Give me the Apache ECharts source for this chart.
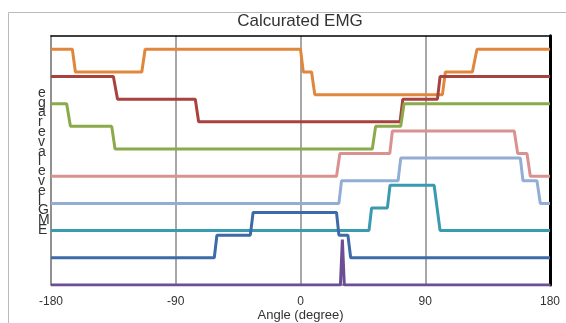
<!DOCTYPE html>
<html><head><meta charset="utf-8">
<script src="https://cdn.jsdelivr.net/npm/echarts@6/dist/echarts.min.js"></script>
<style>html,body{margin:0;padding:0;background:#fff}#c{width:566px;height:323px}</style>
</head><body><div id="c"></div>
<script>
const xTicks = [-180, -90, 0, 90, 180];
const seriesNames = ['orange', 'red', 'green', 'pink', 'lavender', 'teal', 'darkblue', 'purple'];
const offsets = [8.4, 7.2, 6.0, 4.8, 3.6, 2.4, 1.2, 0];
const colors = ['#E0873C', '#A8423F', '#8AAA4B', '#D99290', '#93AED5', '#3A9AB0', '#3D6BA8', '#6C4E94'];

const orangeAngles = [-180, -164.6, -162.4, -114.5, -112.1, 0, 2, 8, 10.3, 102.4, 104.5, 124, 127.3, 180];
const orangeLevels = [2, 2, 1, 1, 2, 2, 1, 1, 0, 0, 1, 1, 2, 2];
const redAngles = [-180, -135, -132, -75.9, -73.5, 71.8, 73.8, 98.8, 100.7, 180];
const redLevels = [2, 2, 1, 1, 0, 0, 1, 1, 2, 2];
const greenAngles = [-180, -168.7, -166, -136.2, -133.8, 51.8, 54.2, 72.3, 74.7, 180];
const greenLevels = [2, 2, 1, 1, 0, 0, 1, 1, 2, 2];
const pinkAngles = [-180, 26, 28.4, 64.4, 66.3, 154.2, 156.7, 163.4, 165.8, 180];
const pinkLevels = [0, 0, 1, 1, 2, 2, 1, 1, 0, 0];
const lavenderAngles = [-180, 27.7, 29.6, 70.4, 72.3, 158.6, 160.5, 170.6, 173, 180];
const lavenderLevels = [0, 0, 1, 1, 2, 2, 1, 1, 0, 0];
const tealAngles = [-180, 49.4, 51.3, 62.7, 64.6, 96.4, 100.7, 180];
const tealLevels = [0, 0, 1, 1, 2, 2, 0, 0];
const darkblueAngles = [-180, -62.2, -60.3, -36.2, -34.2, 26, 27.7, 34.2, 36.2, 180];
const darkblueLevels = [0, 0, 1, 1, 2, 2, 1, 1, 0, 0];
const purpleAngles = [-180, 28.8, 30.2, 31.6, 180];
const purpleLevels = [0, 0, 2, 0, 0];

const allAngles = [orangeAngles, redAngles, greenAngles, pinkAngles, lavenderAngles, tealAngles, darkblueAngles, purpleAngles];
const allLevels = [orangeLevels, redLevels, greenLevels, pinkLevels, lavenderLevels, tealLevels, darkblueLevels, purpleLevels];

const FONT = "'Liberation Sans', Arial, sans-serif";

const series = seriesNames.map((n, i) => ({
  name: n, type: 'line', symbol: 'none', smooth: false, animation: false,
  xAxisIndex: 0, yAxisIndex: 0,
  lineStyle: { color: colors[i], width: 3 },
  itemStyle: { color: colors[i] },
  z: 10 + i,
  data: allAngles[i].map((a, k) => [a, offsets[i] + allLevels[i][k]])
}));

const chart = echarts.init(document.getElementById('c'), null, { renderer: 'canvas' });
chart.setOption({
  animation: false,
  backgroundColor: '#fff',
  title: { text: 'Calcurated EMG', left: 300, top: 13, textAlign: 'center', padding: 0,
    textStyle: { fontFamily: FONT, fontSize: 17, fontWeight: 'normal', color: '#333' } },
  grid: { left: 51, right: 16, top: 35.7, bottom: 38, outerBoundsMode: 'none', containLabel: false },
  xAxis: [{
    type: 'value', min: -180, max: 180, interval: 90,
    name: 'Angle (degree)', nameLocation: 'middle', nameGap: 24, nameMoveOverlap: false,
    nameTextStyle: { fontFamily: FONT, fontSize: 13, color: '#333' },
    axisLine: { show: true, onZero: false, lineStyle: { color: '#888', width: 1.5 } },
    axisTick: { show: false },
    axisLabel: { fontFamily: FONT, fontSize: 12, color: '#333', margin: 11 },
    splitLine: { show: true, lineStyle: { color: '#8a8a8a', width: 1.5 } }
  }, {
    type: 'value', min: -180, max: 180, interval: 90, position: 'top',
    axisLine: { show: true, onZero: false, lineStyle: { color: '#000', width: 1.5 } },
    axisTick: { show: false }, axisLabel: { show: false }, splitLine: { show: false }
  }],
  yAxis: [{
    type: 'value', min: 0, max: 11,
    axisLine: { show: true, onZero: false, lineStyle: { color: '#888', width: 1.5 } },
    axisTick: { show: false }, axisLabel: { show: false }, splitLine: { show: false }
  }, {
    type: 'value', min: 0, max: 11, position: 'right',
    axisLine: { show: true, onZero: false, lineStyle: { color: '#000', width: 3 } },
    axisTick: { show: false }, axisLabel: { show: false }, splitLine: { show: false }
  }],
  graphic: [
    { type: 'rect', shape: { x: 8.5, y: 12.5, width: 600, height: 400 }, silent: true, z: -1,
      style: { fill: 'none', stroke: '#bbb', lineWidth: 1 } },
    { type: 'text', left: 38, top: 86, silent: true,
      style: { text: 'e\ng\na\nr\ne\nv\na\nl\ne\nv\ne\nl\nG\nM\nE', fontFamily: FONT, fontSize: 14,
        lineHeight: 9.8, fill: '#333', align: 'center' } }
  ],
  series: series
});
</script></body></html>
